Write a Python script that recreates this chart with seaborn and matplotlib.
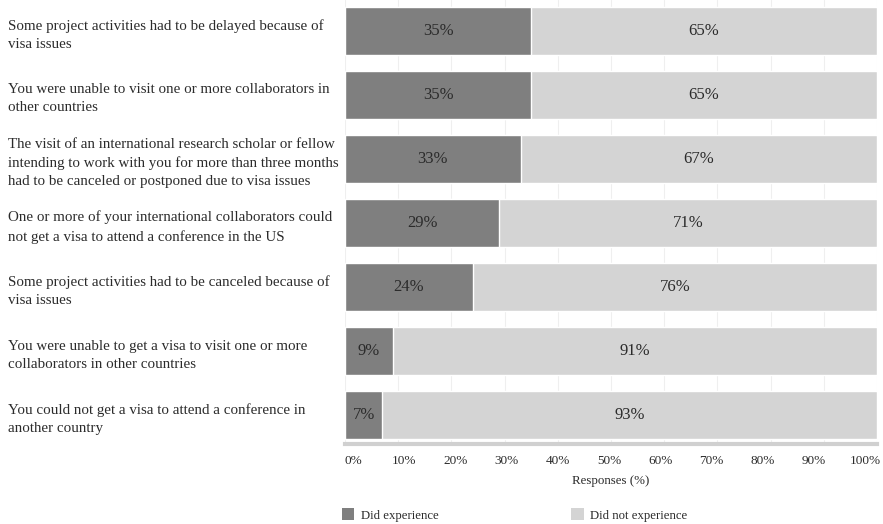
import matplotlib
matplotlib.use("Agg")
import matplotlib.pyplot as plt
import matplotlib.transforms as mtransforms
import seaborn as sns
import pandas as pd
from matplotlib.patches import Patch

categories = [
    "Some project activities had to be delayed because of\nvisa issues",
    "You were unable to visit one or more collaborators in\nother countries",
    "The visit of an international research scholar or fellow\nintending to work with you for more than three months\nhad to be canceled or postponed due to visa issues",
    "One or more of your international collaborators could\nnot get a visa to attend a conference in the US",
    "Some project activities had to be canceled because of\nvisa issues",
    "You were unable to get a visa to visit one or more\ncollaborators in other countries",
    "You could not get a visa to attend a conference in\nanother country",
]
did = [35, 35, 33, 29, 24, 9, 7]
did_not = [65, 65, 67, 71, 76, 91, 93]
tick_vals = [0, 10, 20, 30, 40, 50, 60, 70, 80, 90, 100]
tick_labels = [f"{v}%" for v in tick_vals]

df = pd.DataFrame({"cat": categories, "did": did, "did_not": did_not})
df["total"] = df["did"] + df["did_not"]

sns.set_theme(style="white")
plt.rcParams["font.family"] = ["Liberation Serif", "DejaVu Serif"]

DARK = "#7f7f7f"
LIGHT = "#d4d4d4"
TXT = "#2b2b2b"

fig = plt.figure(figsize=(8.83, 5.24), dpi=100)
ax = fig.add_axes([345 / 883, 80 / 524, (877 - 345) / 883, 444 / 524])

sns.barplot(data=df, x="total", y="cat", orient="h", color=LIGHT, width=0.75,
            saturation=1, ax=ax, zorder=2)
sns.barplot(data=df, x="did", y="cat", orient="h", color=DARK, width=0.75,
            saturation=1, ax=ax, zorder=3)

for i, (d, n) in enumerate(zip(did, did_not)):
    ax.text(d / 2, i, f"{d}%", ha="center", va="center", fontsize=12, color=TXT, zorder=4)
    ax.text(d + n / 2, i, f"{n}%", ha="center", va="center", fontsize=12, color=TXT, zorder=4)

ax.set_xlim(0, 100)
ax.set_ylim(6.45, -0.48)
ax.set_xticks(tick_vals)
ax.set_xticklabels(tick_labels, fontsize=9.5, color=TXT)
ax.set_xlabel("Responses (%)", fontsize=9.3, color=TXT, labelpad=6)
ax.set_ylabel("")
ax.xaxis.grid(True, color="#efefef", linewidth=0.8, zorder=0)
ax.set_axisbelow(True)
for s in ["top", "right", "left"]:
    ax.spines[s].set_visible(False)
ax.spines["bottom"].set_color("#d0d0d0")
ax.spines["bottom"].set_linewidth(3)
ax.tick_params(axis="x", length=0, pad=8)
ax.tick_params(axis="y", length=0, pad=337 * 0.72)
for i, lbl in enumerate(ax.get_xticklabels()):
    dx = (8 - 2 * i) / 100.0
    lbl.set_transform(lbl.get_transform() + mtransforms.ScaledTranslation(dx, 0, fig.dpi_scale_trans))
for lbl in ax.get_yticklabels():
    lbl.set_ha("left")
    lbl.set_fontsize(10.8)
    lbl.set_color(TXT)
    lbl.set_linespacing(1.5)

handles = [Patch(facecolor=DARK, edgecolor="none", label="Did experience"),
           Patch(facecolor=LIGHT, edgecolor="none", label="Did not experience")]
fig.legend(handles=handles, loc="center left", bbox_to_anchor=(330 / 883, 9 / 524),
           ncol=2, frameon=False, fontsize=9.2, handlelength=1.0, handleheight=1.0,
           handletextpad=0.5, columnspacing=10.4, labelcolor=TXT)

fig.savefig("out.png", dpi=100)
